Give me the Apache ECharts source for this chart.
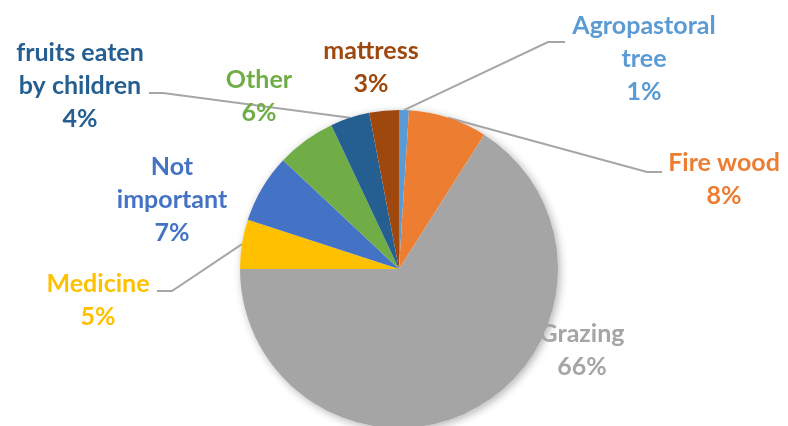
<!DOCTYPE html>
<html>
<head>
<meta charset="utf-8">
<script src="https://cdn.jsdelivr.net/npm/echarts@6/dist/echarts.min.js"></script>
<style>
  html, body { margin: 0; padding: 0; background: #fff; }
  #chart { width: 788px; height: 426px; }
</style>
</head>
<body>
<div id="chart"></div>
<script>
// slices, clockwise from 12 o'clock
const categories = ['Agropastoral\ntree', 'Fire wood', 'Grazing', 'Medicine',
  'Not\nimportant', 'Other', 'fruits eaten\nby children', 'mattress'];
const percents = [1, 8, 66, 5, 7, 6, 4, 3];

const colors = ['#5B9BD5', '#ED7D31', '#A5A5A5', '#FFC000', '#4472C4', '#70AD47', '#255E91', '#9E480E'];

// where each label block sits (centre), and the leader line bend/end (null = no line)
const labelAt = [[644, 59], [724, 179], [582, 350], [98, 300], [172, 200], [259, 96], [80, 86], [371, 67]];
const leader = [
  [[548, 42], [565, 42]],
  [[647, 172], [662, 172]],
  null,
  [[172, 291], [157, 291]],
  null,
  null,
  [[163, 93], [149, 93]],
  null
];

let chart = echarts.init(document.getElementById('chart'));

let pieData = categories.map(function (name, i) {
  return {
    name: name,
    value: percents[i],
    itemStyle: { color: colors[i] },
    label: { color: colors[i] },
    labelLine: { show: leader[i] != null }
  };
});

let total = percents.reduce(function (a, b) { return a + b; }, 0);

let option = {
  animation: false,
  backgroundColor: '#fff',
  series: [
    {
      // plain disc under the slices, only to cast the soft shadow
      type: 'pie',
      silent: true,
      center: [399, 269],
      radius: 159,
      z: 1,
      label: { show: false },
      labelLine: { show: false },
      itemStyle: {
        color: '#fff',
        shadowBlur: 8,
        shadowOffsetX: 2,
        shadowOffsetY: 2,
        shadowColor: 'rgba(0,0,0,0.3)'
      },
      data: [{ value: total }]
    },
    {
      type: 'pie',
      center: [399, 269],
      radius: 159,
      z: 2,
      startAngle: 90,
      clockwise: true,
      avoidLabelOverlap: false,
      itemStyle: { borderWidth: 0 },
      label: {
        show: true,
        position: 'outside',
        fontFamily: 'Lato',
        fontWeight: 'bold',
        fontSize: 25,
        lineHeight: 33,
        align: 'center',
        formatter: function (p) {
          return p.name + '\n' + p.value + '%';
        }
      },
      labelLine: {
        length: 20,
        length2: 15,
        lineStyle: { color: '#A6A6A6', width: 2 }
      },
      labelLayout: function (params) {
        let i = params.dataIndex;
        let out = {
          x: labelAt[i][0],
          y: labelAt[i][1],
          align: 'center',
          verticalAlign: 'middle'
        };
        if (leader[i] && params.labelLinePoints) {
          out.labelLinePoints = [params.labelLinePoints[0], leader[i][0], leader[i][1]];
        }
        return out;
      },
      data: pieData
    }
  ]
};

chart.setOption(option);
</script>
</body>
</html>
